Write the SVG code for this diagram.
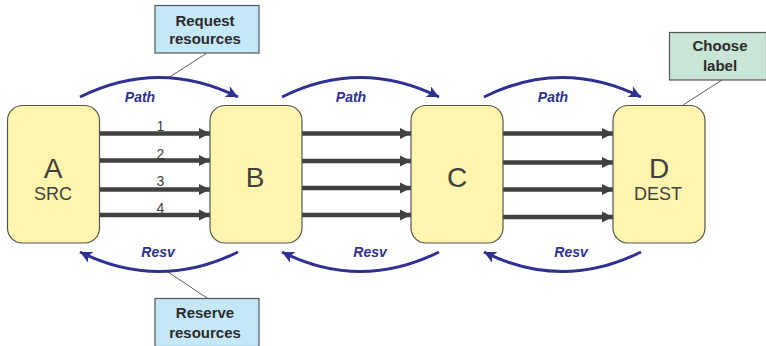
<svg xmlns="http://www.w3.org/2000/svg" width="766" height="346" viewBox="0 0 766 346">
<style>
text{font-family:"Liberation Sans",Arial,sans-serif;fill:#404040}
.node{fill:#fff5ae;stroke:#55554a;stroke-width:1.2}
.big{font-size:28px;text-anchor:middle}
.sub{font-size:18px;text-anchor:middle}
.num{font-size:14px;text-anchor:middle}
.call{stroke:#555;stroke-width:1.2}
.bold{font-size:15px;font-weight:bold;text-anchor:middle;fill:#2b2b2b}
.lab{font-size:14px;font-weight:bold;font-style:italic;text-anchor:middle;fill:#2e3192}
.arc{fill:none;stroke:#2e3192;stroke-width:3;marker-end:url(#blue)}
.bar{stroke:#404040;stroke-width:4.500;marker-end:url(#dark)}
.lead{stroke:#333;stroke-width:.8;fill:none}
</style>
<defs>
<marker id="dark" markerUnits="userSpaceOnUse" markerWidth="12" markerHeight="12" refX="11" refY="6" orient="auto"><path d="M0 0.5L11 6L0 11.500Z" fill="#404040"/></marker>
<marker id="blue" markerUnits="userSpaceOnUse" markerWidth="14" markerHeight="14" refX="12" refY="6" orient="auto"><path d="M0 0L12 6L0 12L3 6Z" fill="#2e3192"/></marker>
</defs>
<g id="connectors">
<path class="bar" d="M99 133.500H210"/><path class="bar" d="M99 160.500H210"/><path class="bar" d="M99 189.500H210"/><path class="bar" d="M99 215H210"/>
<path class="bar" d="M302 133.500H411"/><path class="bar" d="M302 161H411"/><path class="bar" d="M302 188H411"/><path class="bar" d="M302 215H411"/>
<path class="bar" d="M503 133.500H613"/><path class="bar" d="M503 162.500H613"/><path class="bar" d="M503 189.500H613"/><path class="bar" d="M503 217H613"/>
<path class="arc" d="M80 97Q159 58 238 97"/>
<path class="arc" d="M282 97Q360 58 439 97"/>
<path class="arc" d="M484 97Q562 58 641 97"/>
<path class="arc" d="M238 252Q159 291 80 252"/>
<path class="arc" d="M439 252Q360 291 282 252"/>
<path class="arc" d="M641 252Q562 291 484 252"/>
<path class="lead" d="M207 53L168 78"/>
<path class="lead" d="M207 298L168 272"/>
<path class="lead" d="M722 80L683 105"/>
</g>
<g id="node-a"><rect class="node" x="7.500" y="105.500" width="92" height="137.500" rx="15"/><text class="big" x="53" y="178">A</text><text class="sub" x="53" y="200">SRC</text></g>
<g id="node-b"><rect class="node" x="210" y="105.500" width="92" height="137.500" rx="15"/><text class="big" x="255" y="187">B</text></g>
<g id="node-c"><rect class="node" x="411" y="105.500" width="92" height="137.500" rx="15"/><text class="big" x="457" y="187">C</text></g>
<g id="node-d"><rect class="node" x="613" y="105.500" width="92" height="137.500" rx="15"/><text class="big" x="659" y="178">D</text><text class="sub" x="658" y="200">DEST</text></g>
<g id="links"><text class="num" x="160.500" y="131">1</text><text class="num" x="160.500" y="159">2</text><text class="num" x="160.500" y="186">3</text><text class="num" x="160.500" y="212.500">4</text></g>
<g id="path-labels"><text class="lab" x="140" y="102">Path</text><text class="lab" x="351" y="102">Path</text><text class="lab" x="553" y="102">Path</text><text class="lab" x="158" y="257">Resv</text><text class="lab" x="370" y="257">Resv</text><text class="lab" x="571" y="257">Resv</text></g>
<g id="request"><rect class="call" fill="#c5e8f9" x="155" y="5.500" width="104" height="47.500"/><text class="bold" x="205" y="25.500">Request</text><text class="bold" x="205" y="44">resources</text></g>
<g id="reserve"><rect class="call" fill="#c5e8f9" x="155" y="298.500" width="104" height="48"/><text class="bold" x="205" y="318">Reserve</text><text class="bold" x="205" y="338">resources</text></g>
<g id="choose"><rect class="call" fill="#c9e5d5" x="669.500" y="32.500" width="97" height="47.500"/><text class="bold" x="720" y="51">Choose</text><text class="bold" x="720" y="71">label</text></g>
</svg>
